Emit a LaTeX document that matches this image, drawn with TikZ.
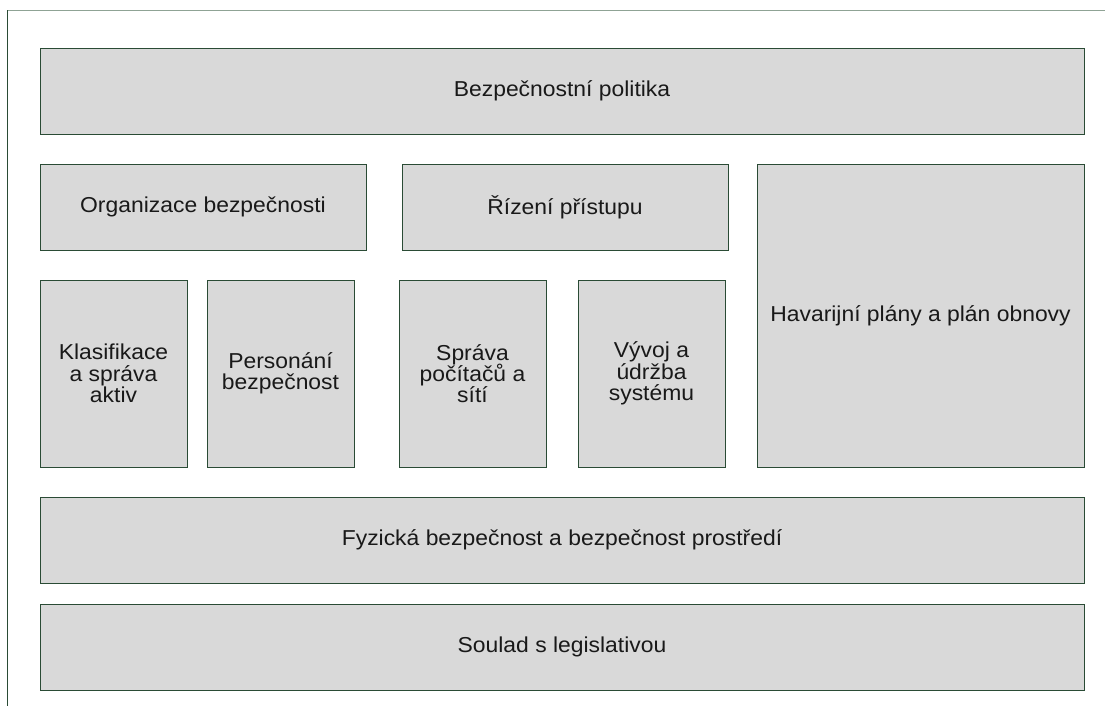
\documentclass[tikz,border=0pt]{standalone}
\usepackage{fontspec}
\setmainfont[FakeStretch=1.06]{Liberation Sans}
\definecolor{boxfill}{HTML}{D9D9D9}
\definecolor{boxline}{HTML}{2A4B35}
\definecolor{frameline}{HTML}{2A4B35}
\definecolor{frametop}{HTML}{8FA395}
% centred lines (separated by \cr) at a fixed pitch
\newcommand\lbl[1]{\vbox{\lineskiplimit=-\maxdimen
  \halign{\hfil##\hfil\cr#1\crcr}}}
\begin{document}
\begin{tikzpicture}[x=1pt,y=-1pt,
  area/.style={draw=boxline, fill=boxfill, line width=0.9pt, rectangle,
    inner sep=0pt, outer sep=0pt,
    font=\fontsize{21.6}{21.3}\selectfont, text=black!90},
  frame/.style={line width=0.9pt}]
  \useasboundingbox (0,0) rectangle (1105,706);

  % outer frame (top and left edges)
  \coordinate (ftr) at (1105,10.5);
  \coordinate (ftl) at (7.5,10.5);
  \coordinate (fbl) at (7.5,706);
  \draw[frame, draw=frametop] (ftr) -- (ftl);
  \draw[frame, draw=frameline] (ftl) -- (fbl);

  % policy layer
  \node[area, minimum width=1044pt, minimum height=86pt] (pol) at (562,91) {\lbl{Bezpečnostní politika}};

  % organisational layer
  \node[area, minimum width=326pt, minimum height=86pt] (org) at (203,207) {\lbl{Organizace bezpečnosti}};
  \node[area, minimum width=326pt, minimum height=86pt] (riz) at (565,207) {\lbl{Řízení přístupu}};
  \node[area, minimum width=327pt, minimum height=303pt] (hav) at (920.5,315.5) {\lbl{Havarijní plány a plán obnovy}};

  % operational columns
  \node[area, minimum width=147pt, minimum height=187pt] (kla) at (113.5,373.5) {\lbl{Klasifikace\cr a správa\cr aktiv}};
  \node[area, minimum width=147pt, minimum height=187pt] (per) at (280.5,373.5) {\lbl{Personání\cr bezpečnost}};
  \node[area, minimum width=147pt, minimum height=187pt] (spr) at (472.5,373.5) {\lbl{Správa\cr počítačů a\cr sítí}};
  \node[area, minimum width=147pt, minimum height=187pt] (vyv) at (651.5,373.5) {\lbl{Vývoj a\cr údržba\cr systému}};

  % base layers
  \node[area, minimum width=1044pt, minimum height=86pt] (fyz) at (562,540) {\lbl{Fyzická bezpečnost a bezpečnost prostředí}};
  \node[area, minimum width=1044pt, minimum height=86pt] (sou) at (562,647) {\lbl{Soulad s legislativou}};
\end{tikzpicture}
\end{document}
